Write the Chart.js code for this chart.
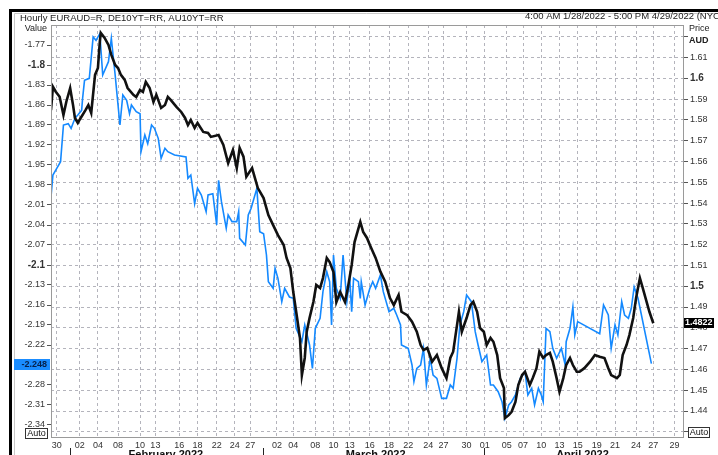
<!DOCTYPE html>
<html>
<head>
<meta charset="utf-8">
<script src="https://cdn.jsdelivr.net/npm/chart.js@4.4.1/dist/chart.umd.min.js"></script>
<style>
  html, body { margin: 0; padding: 0; background: #fff; }
  canvas { display: block; }
</style>
</head>
<body>
<canvas id="chart" width="718" height="455"></canvas>
<script>
// x axis = trading days since 4:00 AM 1/28/2022 (weekends left out)
const xTickPos = [0.6, 3.0, 4.9, 7.0, 9.3, 10.9, 13.4, 15.3, 17.3, 19.2, 20.8,
    23.6, 25.3, 27.6, 29.5, 31.2, 33.3, 35.3, 37.3, 39.4, 41.0, 43.4,
    45.3, 47.6, 49.3, 51.2, 53.1, 55.0, 57.0, 58.9, 61.1, 62.9, 65.1];
const xTickLabels = ['30', '02', '04', '08', '10', '13', '16', '18', '22', '24', '27',
    '02', '04', '08', '10', '13', '16', '18', '22', '24', '27', '30',
    '01', '05', '07', '10', '13', '15', '19', '21', '24', '27', '29'];
const monthNames = ['February 2022', 'March 2022', 'April 2022'];
const monthCentre = [12.0, 33.9, 55.5];
const monthStart = [2.0, 22.1, 45.2];

// EURAUD=R (right axis, Price AUD)
const eurAudX = [0.0, 0.2, 0.5, 0.9, 1.3, 1.6, 2.0, 2.3, 2.5, 2.8, 3.1, 3.6, 3.9, 4.2, 4.6, 4.9,
    5.1, 5.2, 5.6, 6.0, 6.3, 6.7, 7.0, 7.3, 7.7, 8.0, 8.6, 8.9, 9.3, 9.6, 9.9, 10.3, 10.7,
    11.0, 11.5, 11.9, 12.2, 12.5, 13.1, 13.6, 14.0, 14.3, 14.6, 15.0, 15.3, 15.9, 16.4, 16.7,
    17.5, 18.0, 18.5, 19.0, 19.4, 19.7, 20.1, 20.4, 21.0, 21.3, 21.6, 22.2, 22.7, 23.2, 23.7,
    24.3, 24.6, 25.0, 25.3, 25.7, 26.0, 26.2, 26.5, 26.7, 27.0, 27.4, 27.7, 28.1, 28.4, 28.8,
    29.1, 29.5, 29.8, 30.2, 30.7, 31.0, 31.4, 31.7, 32.3, 32.6, 33.0, 33.3, 33.9, 34.4, 34.9,
    35.4, 35.8, 36.3, 36.6, 37.2, 37.7, 38.2, 38.6, 38.9, 39.3, 39.8, 40.3, 40.8, 41.3, 41.7,
    42.0, 42.6, 42.9, 43.4, 43.8, 44.1, 44.5, 44.8, 45.2, 45.5, 45.9, 46.2, 46.6, 46.9, 47.3,
    47.4, 47.8, 48.1, 48.5, 48.8, 49.2, 49.5, 50.0, 50.3, 50.7, 51.0, 51.4, 51.7, 52.1, 52.4,
    52.8, 53.1, 53.5, 53.8, 54.2, 54.5, 54.9, 55.2, 55.7, 56.3, 56.8, 57.3, 57.8, 58.2, 58.5,
    59.1, 59.4, 59.7, 60.1, 60.4, 60.8, 61.1, 61.5, 61.8, 62.2, 62.5, 62.9];
const eurAud = [1.5847, 1.5959, 1.5935, 1.5911, 1.5823, 1.5887, 1.5952, 1.5871, 1.5809, 1.5785,
    1.5809, 1.5847, 1.5871, 1.5833, 1.6016, 1.6049, 1.6176, 1.6218, 1.6194, 1.6160, 1.6112,
    1.6064, 1.6049, 1.6016, 1.5992, 1.5953, 1.5920, 1.5910, 1.5944, 1.5934, 1.5982, 1.5953,
    1.5886, 1.5920, 1.5857, 1.5871, 1.5910, 1.5896, 1.5862, 1.5838, 1.5809, 1.5775, 1.5799,
    1.5761, 1.5785, 1.5742, 1.5737, 1.5718, 1.5727, 1.5679, 1.5592, 1.5655, 1.5568, 1.5665,
    1.5623, 1.5527, 1.5568, 1.5520, 1.5472, 1.5424, 1.5342, 1.5294, 1.5246, 1.5198, 1.5136,
    1.5087, 1.4972, 1.4847, 1.4751, 1.4573, 1.4655, 1.4780, 1.4847, 1.4924, 1.5006, 1.4991,
    1.5039, 1.5136, 1.5116, 1.5068, 1.4924, 1.4972, 1.4924, 1.4991, 1.5102, 1.5212, 1.5309,
    1.5261, 1.5232, 1.5198, 1.5136, 1.5070, 1.5022, 1.4943, 1.4909, 1.4958, 1.4877, 1.4861,
    1.4829, 1.4781, 1.4717, 1.4693, 1.4703, 1.4637, 1.4669, 1.4606, 1.4558, 1.4655, 1.4685,
    1.4877, 1.4781, 1.4847, 1.4909, 1.4925, 1.4877, 1.4799, 1.4781, 1.4717, 1.4751, 1.4733,
    1.4669, 1.4558, 1.4510, 1.4366, 1.4380, 1.4396, 1.4444, 1.4525, 1.4573, 1.4589, 1.4525,
    1.4558, 1.4606, 1.4685, 1.4655, 1.4669, 1.4679, 1.4637, 1.4558, 1.4492, 1.4558, 1.4621,
    1.4655, 1.4621, 1.4589, 1.4589, 1.4606, 1.4637, 1.4669, 1.4661, 1.4655, 1.4606, 1.4573,
    1.4558, 1.4573, 1.4669, 1.4717, 1.4765, 1.4847, 1.4943, 1.5039, 1.4991, 1.4925, 1.4876,
    1.4822];

// DE10YT=RR minus AU10YT=RR (left axis, Value)
const spreadX = [0.0, 0.2, 0.6, 1.0, 1.3, 1.8, 2.1, 2.5, 2.8, 3.2, 3.3, 3.5, 4.0, 4.4, 4.7, 5.1,
    5.4, 6.0, 6.3, 6.7, 7.0, 7.2, 7.5, 7.9, 8.2, 8.4, 8.9, 9.3, 9.4, 9.8, 10.1, 10.5, 10.8,
    11.2, 11.5, 11.9, 12.2, 12.9, 14.1, 14.3, 14.6, 15.0, 15.3, 15.7, 16.2, 16.4, 16.9, 17.3,
    17.5, 17.8, 18.3, 18.5, 18.9, 19.4, 19.6, 19.7, 20.3, 20.6, 20.9, 21.5, 21.8, 22.2, 22.5,
    22.7, 23.2, 23.4, 23.7, 24.1, 24.4, 24.9, 25.3, 25.6, 26.2, 26.5, 27.0, 27.3, 27.6, 28.1,
    28.4, 28.8, 29.1, 29.3, 29.5, 29.8, 30.2, 30.5, 30.9, 31.2, 31.4, 31.6, 32.1, 32.3, 32.4,
    32.8, 33.3, 33.6, 33.9, 34.4, 34.7, 35.3, 35.8, 36.1, 36.5, 36.6, 37.3, 37.7, 37.9, 38.2,
    38.6, 38.9, 39.2, 39.6, 39.9, 40.3, 40.8, 41.3, 41.7, 42.0, 42.4, 42.7, 43.1, 43.4, 43.9,
    44.3, 44.6, 45.0, 45.5, 45.9, 46.2, 46.7, 47.1, 47.4, 47.8, 48.1, 48.5, 49.0, 49.5, 49.8,
    50.2, 50.5, 50.9, 51.2, 51.4, 51.7, 52.1, 52.4, 52.8, 53.3, 53.7, 53.8, 54.2, 54.5, 54.7,
    55.0, 57.3, 57.7, 58.2, 58.5, 58.9, 59.2, 59.6, 59.9, 60.3, 60.6, 60.9, 61.3, 62.7];
const spread = [-1.998, -1.965, -1.955, -1.945, -1.890, -1.888, -1.895, -1.880, -1.875, -1.868,
    -1.850, -1.823, -1.820, -1.758, -1.763, -1.753, -1.815, -1.795, -1.760, -1.815, -1.860,
    -1.890, -1.845, -1.853, -1.873, -1.860, -1.870, -1.873, -1.930, -1.905, -1.918, -1.890,
    -1.895, -1.910, -1.940, -1.925, -1.930, -1.935, -1.938, -1.970, -1.965, -2.008, -1.985,
    -1.995, -2.020, -1.995, -1.993, -2.040, -1.973, -2.005, -2.045, -2.025, -2.035, -2.035,
    -2.020, -2.060, -2.070, -2.025, -2.015, -1.985, -2.050, -2.053, -2.085, -2.125, -2.135,
    -2.105, -2.120, -2.155, -2.135, -2.148, -2.150, -2.195, -2.215, -2.190, -2.220, -2.255,
    -2.195, -2.180, -2.140, -2.110, -2.125, -2.190, -2.085, -2.135, -2.150, -2.085, -2.155,
    -2.120, -2.170, -2.120, -2.125, -2.150, -2.125, -2.160, -2.135, -2.125, -2.135, -2.115,
    -2.140, -2.170, -2.165, -2.175, -2.190, -2.220, -2.225, -2.250, -2.275, -2.255, -2.250,
    -2.225, -2.280, -2.240, -2.265, -2.270, -2.300, -2.300, -2.280, -2.285, -2.240, -2.190,
    -2.170, -2.145, -2.155, -2.200, -2.220, -2.245, -2.235, -2.280, -2.280, -2.290, -2.305,
    -2.330, -2.310, -2.305, -2.295, -2.270, -2.260, -2.295, -2.285, -2.310, -2.285, -2.295,
    -2.305, -2.195, -2.200, -2.225, -2.240, -2.225, -2.250, -2.215, -2.195, -2.163, -2.205,
    -2.185, -2.203, -2.160, -2.175, -2.225, -2.190, -2.205, -2.155, -2.175, -2.180, -2.165,
    -2.133, -2.150, -2.248];

const leftTicks = [-1.77, -1.8, -1.83, -1.86, -1.89, -1.92, -1.95, -1.98, -2.01, -2.04, -2.07,
    -2.1, -2.13, -2.16, -2.19, -2.22, -2.28, -2.31, -2.34];
const leftBold = [-1.8, -2.1];
const rightTicks = [1.43, 1.44, 1.45, 1.46, 1.47, 1.48, 1.49, 1.5, 1.51, 1.52, 1.53, 1.54,
    1.55, 1.56, 1.57, 1.58, 1.59, 1.6, 1.61, 1.62];
const rightBold = [1.6, 1.5];

const FONT = '"Liberation Sans", Arial, sans-serif';
const GRID = '#b4b4bc';

function tickFont(boldList) {
    return c => (c.tick && boldList.some(b => Math.abs(b - c.tick.value) < 1e-6))
        ? { family: FONT, size: 10, weight: 'bold' }
        : { family: FONT, size: 9 };
}

const decor = {
    id: 'decor',
    beforeDraw(chart) {
        const ctx = chart.ctx;
        ctx.save();
        ctx.fillStyle = '#fff';
        ctx.fillRect(0, 0, chart.width, chart.height);
        // outer window frame
        ctx.fillStyle = '#000';
        ctx.fillRect(9, 9, chart.width - 9, 3);
        ctx.fillRect(9, 9, 3, chart.height - 9);
        ctx.strokeStyle = '#c8c8c8';
        ctx.lineWidth = 1;
        ctx.beginPath();
        ctx.moveTo(14.5, chart.height);
        ctx.lineTo(14.5, 13.5);
        ctx.lineTo(chart.width, 13.5);
        ctx.stroke();
        ctx.restore();
    },
    afterDraw(chart) {
        const ctx = chart.ctx;
        const a = chart.chartArea;
        const x = chart.scales.x, yL = chart.scales.yL, yR = chart.scales.yR;
        ctx.save();

        // plot frame
        ctx.strokeStyle = '#9a9a9a';
        ctx.lineWidth = 1;
        ctx.strokeRect(a.left + 0.5, a.top + 0.5, a.right - a.left, a.bottom - a.top);

        // header texts
        ctx.fillStyle = '#222';
        ctx.font = '9.5px ' + FONT;
        ctx.textBaseline = 'alphabetic';
        ctx.textAlign = 'left';
        ctx.fillText('Hourly EURAUD=R, DE10YT=RR, AU10YT=RR', 20, 21);
        ctx.fillText('4:00 AM 1/28/2022 - 5:00 PM 4/29/2022 (NYC)', 525, 19);
        ctx.font = '9px ' + FONT;
        ctx.textAlign = 'right';
        ctx.fillText('Value', 47, 31);
        ctx.textAlign = 'left';
        ctx.fillText('Price', 689, 31);
        ctx.font = 'bold 9px ' + FONT;
        ctx.fillText('AUD', 689, 43);

        // last value boxes
        const lastS = spread[spread.length - 1];
        const yS = yL.getPixelForValue(lastS);
        ctx.fillStyle = '#1a8cff';
        ctx.fillRect(14, Math.round(yS) - 5, 36, 11);
        ctx.fillStyle = '#06204a';
        ctx.font = 'bold 9px ' + FONT;
        ctx.textAlign = 'right';
        ctx.textBaseline = 'middle';
        ctx.fillText(lastS.toFixed(3), 47, Math.round(yS) + 0.5);

        const lastE = eurAud[eurAud.length - 1];
        const yE = yR.getPixelForValue(lastE);
        ctx.fillStyle = '#000';
        ctx.fillRect(684, Math.round(yE) - 5, 30, 10);
        ctx.fillStyle = '#fff';
        ctx.textAlign = 'left';
        ctx.fillText(lastE.toFixed(4), 685, Math.round(yE));

        // Auto buttons
        ctx.font = '9px ' + FONT;
        ctx.strokeStyle = '#333';
        ctx.fillStyle = '#fff';
        ctx.fillRect(25.5, 428.5, 22, 10);
        ctx.strokeRect(25.5, 428.5, 22, 10);
        ctx.fillRect(688.5, 427.5, 21, 10);
        ctx.strokeRect(688.5, 427.5, 21, 10);
        ctx.fillStyle = '#111';
        ctx.textAlign = 'center';
        ctx.fillText('Auto', 36.5, 434);
        ctx.fillText('Auto', 699, 433);

        // month row
        ctx.strokeStyle = '#222';
        monthStart.forEach(m => {
            const px = Math.round(x.getPixelForValue(m)) + 0.5;
            ctx.beginPath();
            ctx.moveTo(px, 448);
            ctx.lineTo(px, 455);
            ctx.stroke();
        });
        ctx.fillStyle = '#111';
        ctx.font = 'bold 11px ' + FONT;
        ctx.textBaseline = 'top';
        monthNames.forEach((n, i) => {
            ctx.fillText(n, x.getPixelForValue(monthCentre[i]), 449);
        });
        ctx.restore();
    }
};

const ctx = document.getElementById('chart').getContext('2d');
const chart = new Chart(ctx, {
    type: 'line',
    data: {
        datasets: [{
            label: 'EURAUD=R',
            data: eurAudX.map((v, i) => ({ x: v, y: eurAud[i] })),
            yAxisID: 'yR',
            borderColor: '#111111',
            borderWidth: 2.6,
            pointRadius: 0,
            tension: 0,
            order: 0
        }, {
            label: 'DE10YT=RR - AU10YT=RR',
            data: spreadX.map((v, i) => ({ x: v, y: spread[i] })),
            yAxisID: 'yL',
            borderColor: '#1489ff',
            borderWidth: 1.6,
            pointRadius: 0,
            tension: 0,
            order: 1
        }]
    },
    options: {
        responsive: false,
        devicePixelRatio: 1,
        animation: false,
        layout: { padding: { top: 25, left: 0, right: 0, bottom: 0 } },
        plugins: {
            legend: { display: false },
            tooltip: { enabled: false }
        },
        scales: {
            x: {
                type: 'linear',
                min: 0,
                max: 66,
                afterBuildTicks: s => { s.ticks = xTickPos.map(v => ({ value: v })); },
                afterFit: s => { s.height = 18; },
                grid: { color: GRID, drawTicks: false },
                border: { display: false, dash: [3, 3] },
                ticks: {
                    autoSkip: false,
                    maxRotation: 0,
                    padding: 3,
                    color: '#333',
                    font: { family: FONT, size: 9 },
                    callback: (v, i) => xTickLabels[i]
                }
            },
            yL: {
                type: 'linear',
                position: 'left',
                min: -2.358,
                max: -1.74,
                afterBuildTicks: s => { s.ticks = leftTicks.map(v => ({ value: v })); },
                afterFit: s => { s.width = 51; },
                grid: { drawOnChartArea: false, drawTicks: true, tickLength: 4, tickColor: '#555' },
                border: { display: false },
                ticks: {
                    padding: 2,
                    color: '#333',
                    font: tickFont(leftBold),
                    callback: v => String(Number(v.toFixed(2)))
                }
            },
            yR: {
                type: 'linear',
                position: 'right',
                min: 1.4275,
                max: 1.6256,
                afterBuildTicks: s => { s.ticks = rightTicks.map(v => ({ value: v })); },
                afterFit: s => { s.width = 35; },
                grid: { color: GRID, drawTicks: true, tickLength: 5, tickColor: '#555' },
                border: { display: false, dash: [3, 3] },
                ticks: {
                    padding: 2,
                    color: '#333',
                    font: tickFont(rightBold),
                    callback: v => (v < 1.435 || v > 1.615) ? '' : String(Number(v.toFixed(2)))
                }
            }
        }
    },
    plugins: [decor]
});
</script>
</body>
</html>
